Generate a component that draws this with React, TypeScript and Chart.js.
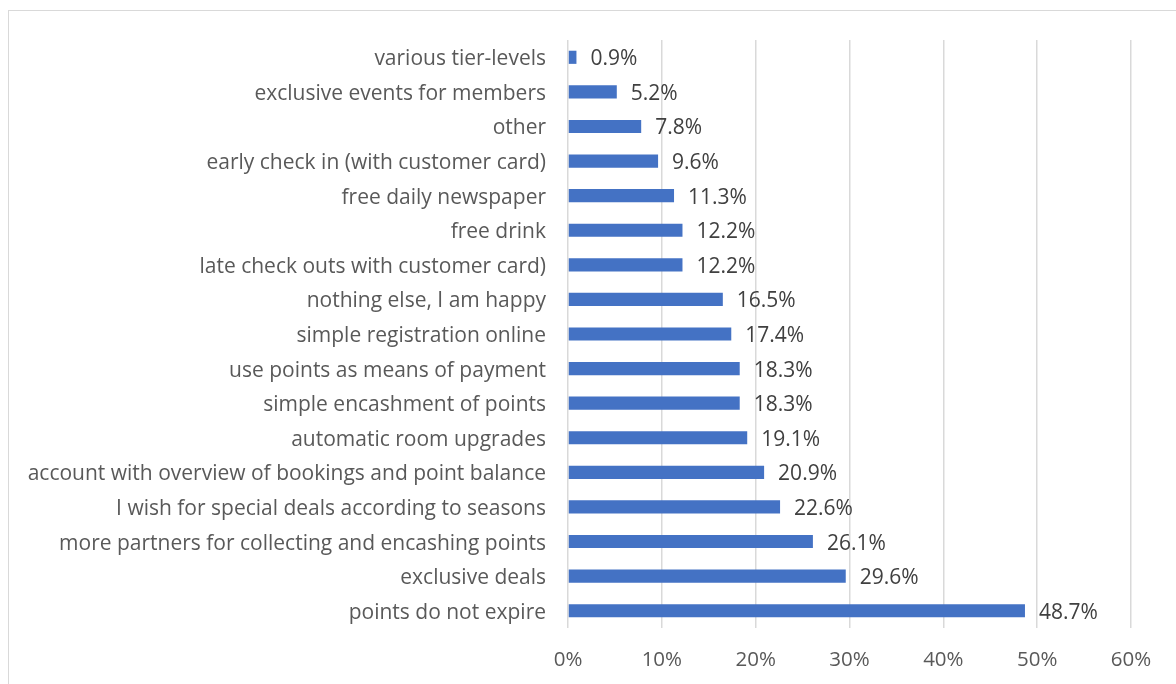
import React, { useEffect, useRef } from "react";
import { Chart, registerables } from "chart.js";

Chart.register(...registerables);

const categories = [
  "various tier-levels",
  "exclusive events for members",
  "other",
  "early check in (with customer card)",
  "free daily newspaper",
  "free drink",
  "late check outs with customer card)",
  "nothing else, I am happy",
  "simple registration online",
  "use points as means of payment",
  "simple encashment of points",
  "automatic room upgrades",
  "account with overview of bookings and point balance",
  "I wish for special deals according to seasons",
  "more partners for collecting and encashing points",
  "exclusive deals",
  "points do not expire",
];

const values = [0.9, 5.2, 7.8, 9.6, 11.3, 12.2, 12.2, 16.5, 17.4, 18.3, 18.3, 19.1, 20.9, 22.6, 26.1, 29.6, 48.7];

const xTicks = [0, 10, 20, 30, 40, 50, 60];

const FONT = "'Open Sans', 'Liberation Sans', sans-serif";
const TEXT = "#595959";

const labelPlugin = {
  id: "barValueLabels",
  afterDatasetsDraw(chart: any) {
    const ctx = chart.ctx;
    const meta = chart.getDatasetMeta(0);
    ctx.save();
    ctx.font = `21px ${FONT}`;
    ctx.fillStyle = "#404040";
    ctx.textAlign = "left";
    ctx.textBaseline = "middle";
    meta.data.forEach((bar: any, i: number) => {
      ctx.fillText(values[i].toFixed(1) + "%", bar.x + 14, bar.y + 2);
    });
    ctx.restore();
  },
};

export default function App() {
  const ref = useRef<HTMLCanvasElement | null>(null);
  useEffect(() => {
    if (!ref.current) return;
    const chart = new Chart(ref.current, {
      type: "bar",
      data: {
        labels: categories,
        datasets: [
          {
            data: values,
            backgroundColor: "#4472C4",
            borderWidth: 0,
            barPercentage: 0.38,
            categoryPercentage: 1,
          },
        ],
      },
      options: {
        indexAxis: "y",
        animation: false,
        responsive: false,
        maintainAspectRatio: false,
        layout: { padding: { top: 40, right: 45, bottom: 0, left: 0 } },
        plugins: { legend: { display: false }, tooltip: { enabled: false } },
        scales: {
          x: {
            min: 0,
            max: 60,
            afterBuildTicks: (scale: any) => {
              scale.ticks = xTicks.map((v) => ({ value: v }));
            },
            afterFit: (scale: any) => {
              scale.height = 56;
            },
            grid: { color: "#d9d9d9", lineWidth: 1.5, drawTicks: false },
            border: { display: false },
            ticks: {
              padding: 20,
              color: TEXT,
              font: { family: FONT, size: 20.5 },
              callback: (v: any) => v + "%",
            },
          },
          y: {
            afterFit: (scale: any) => {
              scale.width = 568;
            },
            grid: { display: false, drawTicks: false },
            border: { display: false },
            ticks: {
              padding: 22,
              labelOffset: 2,
              color: TEXT,
              font: { family: FONT, size: 21 },
              autoSkip: false,
            },
          },
        },
      },
      plugins: [labelPlugin],
    });
    return () => chart.destroy();
  }, []);

  return (
    <div style={{ position: "absolute", left: 0, top: 0, width: 1176, height: 684, overflow: "hidden", background: "#fff" }}>
      <div
        style={{
          position: "absolute",
          left: 8,
          top: 10,
          width: 1180,
          height: 700,
          border: "1px solid #d9d9d9",
        }}
      />
      <canvas ref={ref} width={1176} height={684} style={{ position: "absolute", left: 0, top: 0 }} />
    </div>
  );
}
